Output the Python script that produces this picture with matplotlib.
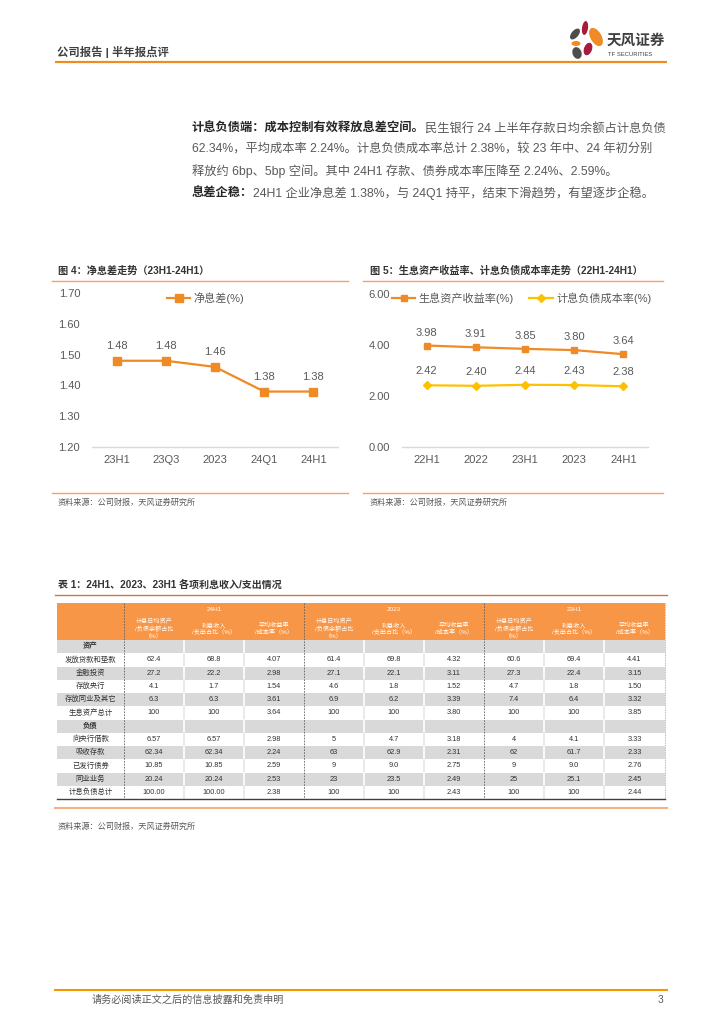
import matplotlib
matplotlib.use('Agg')
import matplotlib.pyplot as plt
from matplotlib.patches import Rectangle, Ellipse
from matplotlib.lines import Line2D

plt.rcParams['font.family'] = ['Liberation Sans', 'Noto Sans CJK SC']

# ---------------- data ----------------
nim_periods = ['23H1', '23Q3', '2023', '24Q1', '24H1']
nim_values = [1.48, 1.48, 1.46, 1.38, 1.38]

rate_periods = ['22H1', '2022', '23H1', '2023', '24H1']
asset_yield = [3.98, 3.91, 3.85, 3.80, 3.64]
liab_cost = [2.42, 2.40, 2.44, 2.43, 2.38]

table_groups = ['24H1', '2023', '23H1']
table_subheaders = ['计息日均资产\n/负债余额占比\n（%）', '利息收入\n/支出占比（%）', '平均收益率\n/成本率（%）']
asset_items = ['发放贷款和垫款', '金融投资', '存放央行', '存放同业及其它', '生息资产总计']
liab_items = ['向央行借款', '吸收存款', '已发行债券', '同业业务', '计息负债总计']

asset_24h1 = [['62.4', '68.8', '4.07'], ['27.2', '22.2', '2.98'], ['4.1', '1.7', '1.54'],
              ['6.3', '6.3', '3.61'], ['100', '100', '3.64']]
asset_2023 = [['61.4', '69.8', '4.32'], ['27.1', '22.1', '3.11'], ['4.6', '1.8', '1.52'],
              ['6.9', '6.2', '3.39'], ['100', '100', '3.80']]
asset_23h1 = [['60.6', '69.4', '4.41'], ['27.3', '22.4', '3.15'], ['4.7', '1.8', '1.50'],
              ['7.4', '6.4', '3.32'], ['100', '100', '3.85']]
liab_24h1 = [['6.57', '6.57', '2.98'], ['62.34', '62.34', '2.24'], ['10.85', '10.85', '2.59'],
             ['20.24', '20.24', '2.53'], ['100.00', '100.00', '2.38']]
liab_2023 = [['5', '4.7', '3.18'], ['63', '62.9', '2.31'], ['9', '9.0', '2.75'],
             ['23', '23.5', '2.49'], ['100', '100', '2.43']]
liab_23h1 = [['4', '4.1', '3.33'], ['62', '61.7', '2.33'], ['9', '9.0', '2.76'],
             ['25', '25.1', '2.45'], ['100', '100', '2.44']]

# ---------------- styles ----------------
W, H = 724, 1024
ORANGE = '#F08A24'
GOLD = '#FFC000'
GRAY_TXT = '#595959'
DARK_TXT = '#333333'
LINE_OR = '#F5A25D'

fig = plt.figure(figsize=(W / 100, H / 100), dpi=100)
page = fig.add_axes([0, 0, 1, 1])
page.set_xlim(0, W)
page.set_ylim(H, 0)
page.axis('off')


def frect(x0, y0, x1, y1):
    return [x0 / W, 1 - y1 / H, (x1 - x0) / W, (y1 - y0) / H]


renderer = fig.canvas.get_renderer()


def mixed_line(x, y, parts, size):
    for txt, weight, color in parts:
        t = page.text(x, y, txt, fontsize=size, fontweight=weight, color=color,
                      ha='left', va='center')
        bb = t.get_window_extent(renderer=renderer)
        x += bb.width


# ---------------- header ----------------
page.text(57, 52, '公司报告 | 半年报点评', fontsize=8.2, fontweight='bold', color='#404040',
          ha='left', va='center')
page.plot([55, 667], [61.5, 61.5], color=ORANGE, lw=1.6, solid_capstyle='butt')
# logo petals
petals = [((585, 28), 6, 14, 8, '#A51C3C'),
          ((596, 37), 11, 20, -30, ORANGE),
          ((575, 34), 7, 13, 40, '#4D4D4D'),
          ((576, 43.5), 9, 5, 0, ORANGE),
          ((588, 49), 8, 13, 20, '#A51C3C'),
          ((577, 53), 9, 12, -20, '#4D4D4D')]
for c, w, h, ang, col in petals:
    page.add_patch(Ellipse(c, w, h, angle=ang, color=col, lw=0))
page.text(607, 41, '天风证券', fontsize=10.5, fontweight='bold', color='#404040', ha='left', va='center')
page.text(608, 54, 'TF SECURITIES', fontsize=4.2, color='#404040', ha='left', va='center')

# ---------------- body text ----------------
BS = 8.8
mixed_line(192, 129, [('计息负债端：成本控制有效释放息差空间。', 'bold', '#262626'),
                      ('民生银行 24 上半年存款日均余额占计息负债', 'normal', GRAY_TXT)], BS)
mixed_line(192, 150, [('62.34%，平均成本率 2.24%。计息负债成本率总计 2.38%，较 23 年中、24 年初分别', 'normal', GRAY_TXT)], BS)
mixed_line(192, 171, [('释放约 6bp、5bp 空间。其中 24H1 存款、债券成本率压降至 2.24%、2.59%。', 'normal', GRAY_TXT)], BS)
mixed_line(192, 193, [('息差企稳：', 'bold', '#262626'),
                      ('24H1 企业净息差 1.38%，与 24Q1 持平，结束下滑趋势，有望逐步企稳。', 'normal', GRAY_TXT)], BS)

# ---------------- chart titles / rules ----------------
page.text(58, 271, '图 4：净息差走势（23H1-24H1）', fontsize=7.3, fontweight='bold', color=DARK_TXT,
          ha='left', va='center')
page.text(370, 271, '图 5：生息资产收益率、计息负债成本率走势（22H1-24H1）', fontsize=7.3, fontweight='bold',
          color=DARK_TXT, ha='left', va='center')
for x0, x1 in [(52, 348), (363, 663)]:
    page.plot([x0, x1], [281, 281], color=LINE_OR, lw=1.0)
    page.plot([x0, x1], [493, 493], color=LINE_OR, lw=1.0)
page.text(58, 503, '资料来源：公司财报，天风证券研究所', fontsize=5.9, color=GRAY_TXT, ha='left', va='center')
page.text(370, 503, '资料来源：公司财报，天风证券研究所', fontsize=5.9, color=GRAY_TXT, ha='left', va='center')


def style_axes(ax):
    ax.patch.set_alpha(0)
    for s in ['top', 'right', 'left']:
        ax.spines[s].set_visible(False)
    ax.spines['bottom'].set_color('#D9D9D9')
    ax.spines['bottom'].set_linewidth(1.0)
    ax.tick_params(axis='both', length=0, labelsize=8, colors=GRAY_TXT)
    ax.tick_params(axis='y', pad=8.5)
    ax.tick_params(axis='x', pad=6)


# ---------------- chart 1 ----------------
ax1 = fig.add_axes(frect(92, 293, 338, 447))
style_axes(ax1)
xs = list(range(len(nim_periods)))
ax1.plot(xs, nim_values, color=ORANGE, lw=1.6, marker='s', ms=5.5, label='净息差(%)', clip_on=False)
ax1.set_xlim(-0.5, 4.5)
ax1.set_ylim(1.2, 1.7)
yt = [1.2, 1.3, 1.4, 1.5, 1.6, 1.7]
ax1.set_yticks(yt, [f'{v:.2f}' for v in yt])
ax1.set_xticks(xs, nim_periods)
for i, v in enumerate(nim_values):
    ax1.annotate(f'{v:.2f}', (i, v), xytext=(0, 15), textcoords='offset pixels', ha='center',
                 va='center', fontsize=8, color=GRAY_TXT)
ax1.legend(loc='center left', bbox_to_anchor=(167 / W, 1 - 298 / H), bbox_transform=fig.transFigure,
           frameon=False, fontsize=8, handlelength=2.1, handletextpad=0.3, borderpad=0,
           borderaxespad=0, labelcolor=GRAY_TXT)

# ---------------- chart 2 ----------------
ax2 = fig.add_axes(frect(402, 294, 648, 447))
style_axes(ax2)
xs2 = list(range(len(rate_periods)))
ax2.plot(xs2, asset_yield, color=ORANGE, lw=1.6, marker='s', ms=5, label='生息资产收益率(%)')
ax2.plot(xs2, liab_cost, color=GOLD, lw=1.6, marker='D', ms=4.5, label='计息负债成本率(%)')
ax2.set_xlim(-0.5, 4.5)
ax2.set_ylim(0, 6)
yt2 = [0, 2, 4, 6]
ax2.set_yticks(yt2, [f'{v:.2f}' for v in yt2])
ax2.set_xticks(xs2, rate_periods)
for i, v in enumerate(asset_yield):
    ax2.annotate(f'{v:.2f}', (i, v), xytext=(0, 13), textcoords='offset pixels', ha='center',
                 va='center', fontsize=8, color=GRAY_TXT)
for i, v in enumerate(liab_cost):
    ax2.annotate(f'{v:.2f}', (i, v), xytext=(0, 14), textcoords='offset pixels', ha='center',
                 va='center', fontsize=8, color=GRAY_TXT)
ax2.legend(loc='center left', bbox_to_anchor=(392 / W, 1 - 298 / H), bbox_transform=fig.transFigure,
           frameon=False, fontsize=8, ncol=2, handlelength=2.1, handletextpad=0.3, columnspacing=1.4,
           borderpad=0, borderaxespad=0, labelcolor=GRAY_TXT)

# ---------------- table ----------------
page.text(58, 585, '表 1：24H1、2023、23H1 各项利息收入/支出情况', fontsize=7.2, fontweight='bold',
          color=DARK_TXT, ha='left', va='center')
page.plot([55, 667], [595, 595], color='#C97A40', lw=1.0)

TX0, TX1 = 57, 665
col_edges = [57, 124, 184, 244, 304, 364, 424, 484, 544, 604, 665]
HEAD_TOP, HEAD_BOT, TBOT = 603, 640, 799
HEAD_OR = '#F79646'
TGRAY = '#D9D9D9'
page.add_patch(Rectangle((TX0, HEAD_TOP), TX1 - TX0, HEAD_BOT - HEAD_TOP, color=HEAD_OR, lw=0))
for g, name in enumerate(table_groups):
    gx0 = col_edges[1 + 3 * g]
    gx1 = col_edges[4 + 3 * g]
    page.text((gx0 + gx1) / 2, 609.5, name, fontsize=4.6, color='white', ha='center', va='center')
    for k, sub in enumerate(table_subheaders):
        cx = (col_edges[1 + 3 * g + k] + col_edges[2 + 3 * g + k]) / 2
        page.text(cx, 628.5, sub, fontsize=4.4, color='white', ha='center', va='center',
                  linespacing=1.15, multialignment='center')

rows = [('资产', None, True)]
for i, name in enumerate(asset_items):
    rows.append((name, [asset_24h1[i], asset_2023[i], asset_23h1[i]], False))
rows.append(('负债', None, True))
for i, name in enumerate(liab_items):
    rows.append((name, [liab_24h1[i], liab_2023[i], liab_23h1[i]], False))

rh = (TBOT - HEAD_BOT) / len(rows)
for r, (name, vals, section) in enumerate(rows):
    y0 = HEAD_BOT + r * rh
    gray = (r % 2 == 0)
    bg = TGRAY if gray else 'white'
    page.add_patch(Rectangle((TX0, y0), TX1 - TX0, rh, color=bg, lw=0))
    sep = 'white' if gray else '#E6E6E6'
    for xe in col_edges[1:-1]:
        if xe in (124, 304, 484):
            continue
        page.plot([xe, xe], [y0 + 0.5, y0 + rh - 0.5], color=sep, lw=1.2)
    cy = y0 + rh / 2
    page.text((col_edges[0] + col_edges[1]) / 2, cy, name, fontsize=5.3,
              fontweight='bold' if section else 'normal', color=DARK_TXT, ha='center', va='center')
    if vals:
        for g in range(3):
            for k in range(3):
                ci = 1 + 3 * g + k
                page.text((col_edges[ci] + col_edges[ci + 1]) / 2, cy, vals[g][k], fontsize=5.3,
                          color=DARK_TXT, ha='center', va='center')

for xe in (124, 304, 484):
    page.plot([xe, xe], [HEAD_TOP, TBOT], color='#606060', lw=0.6, ls=(0, (2, 1.5)))
page.plot([TX1, TX1], [HEAD_TOP, TBOT], color='#A0A0A0', lw=0.6, ls=(0, (1, 1)))
page.plot([TX0, TX1], [TBOT, TBOT], color='#404040', lw=1.0)
page.plot([55, 667], [808, 808], color='#F4B183', lw=1.5)
page.text(58, 827, '资料来源：公司财报，天风证券研究所', fontsize=5.9, color=GRAY_TXT, ha='left', va='center')

# ---------------- footer ----------------
page.plot([55, 667], [990, 990], color='#F39800', lw=1.5)
page.text(92, 1000, '请务必阅读正文之后的信息披露和免责申明', fontsize=7.3, color=GRAY_TXT, ha='left', va='center')
page.text(663, 1000, '3', fontsize=7.3, color=GRAY_TXT, ha='right', va='center')

fig.savefig('out.png', dpi=100)
